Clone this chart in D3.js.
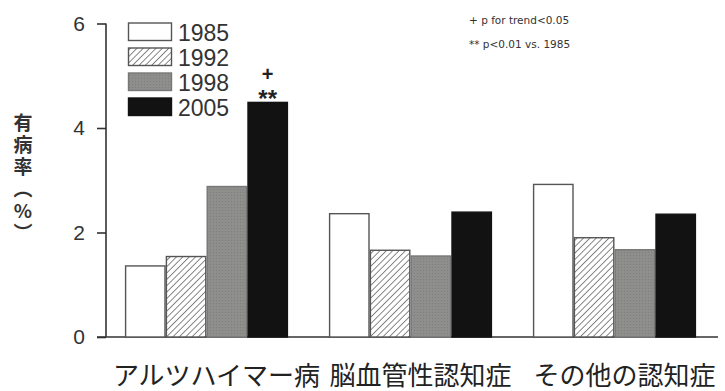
<!DOCTYPE html>
<html><head><meta charset="utf-8">
<script src="https://cdn.jsdelivr.net/npm/d3@7"></script>
<style>body{margin:0;background:#fff}svg{display:block}</style>
</head><body>
<div id="chart"></div>
<script>
const categories = ["アルツハイマー病", "脳血管性認知症", "その他の認知症"];
const years = ["1985", "1992", "1998", "2005"];
const v1985 = [1.36, 2.36, 2.92];
const v1992 = [1.54, 1.66, 1.90];
const v1998 = [2.88, 1.55, 1.67];
const v2005 = [4.49, 2.39, 2.35];
const yTicks = [0, 2, 4, 6];
const yTitle = "有病率（%）";
const notes = ["+ p for trend<0.05", "**  p<0.01 vs. 1985"];
const marks = ["+", "**"];

const series = [v1985, v1992, v1998, v2005];
const W = 725, H = 391;
const svg = d3.select("#chart").append("svg").attr("width", W).attr("height", H);
const defs = svg.append("defs");
const hatch = defs.append("pattern").attr("id","hatch").attr("patternUnits","userSpaceOnUse")
  .attr("width",4.5).attr("height",4.5).attr("patternTransform","rotate(45)");
hatch.append("rect").attr("width",4.5).attr("height",4.5).attr("fill","#fff");
hatch.append("line").attr("x1",0).attr("y1",0).attr("x2",0).attr("y2",4.5).attr("stroke","#6a6a6a").attr("stroke-width",1.6);
const dots = defs.append("pattern").attr("id","dots").attr("patternUnits","userSpaceOnUse").attr("width",3).attr("height",3);
dots.append("rect").attr("width",3).attr("height",3).attr("fill","#8e8f8c");
dots.append("rect").attr("width",1).attr("height",1).attr("fill","#7e7f7c");

const fills = ["#ffffff", "url(#hatch)", "url(#dots)", "#121212"];
const strokes = ["#555", "#555", "#777", "#121212"];

const y = d3.scaleLinear().domain([0, 6]).range([337, 23.5]);
const x0 = d3.scaleBand().domain(categories).range([104.5, 716.5]).paddingInner(0.2).paddingOuter(0.1);
const x1 = d3.scaleBand().domain(years).range([0, x0.bandwidth()]);

// axes
const ya = svg.append("g").attr("transform","translate(106,0)")
  .call(d3.axisLeft(y).tickValues(yTicks).tickSize(9).tickPadding(12).tickFormat(d3.format("d")));
ya.select(".domain").attr("stroke","#333").attr("stroke-width",1.6).attr("d","M0,"+y(6)+"V"+y(0));
ya.selectAll(".tick line").attr("stroke","#333").attr("stroke-width",1.6);
ya.selectAll(".tick text").attr("font-family","'Liberation Sans', Arial, sans-serif").attr("font-size",21).attr("fill","#333");

svg.append("line").attr("x1",97).attr("x2",718).attr("y1",y(0)).attr("y2",y(0)).attr("stroke","#333").attr("stroke-width",1.6);

// bars
const g = svg.append("g");
categories.forEach((c, ci) => {
  years.forEach((yr, si) => {
    const v = series[si][ci];
    g.append("rect")
      .attr("x", x0(c) + x1(yr) + 0.7)
      .attr("y", y(v))
      .attr("width", x1.bandwidth() - 1.4)
      .attr("height", y(0) - y(v))
      .attr("fill", fills[si]).attr("stroke", strokes[si]).attr("stroke-width", 1.4);
  });
});

// significance marks above 2005 Alzheimer bar
const mx = x0(categories[0]) + x1("2005") + x1.bandwidth()/2;
svg.append("text").attr("x", mx).attr("y", y(v2005[0]) - 21).attr("text-anchor","middle")
  .attr("font-family","'Liberation Sans', Arial, sans-serif").attr("font-size",20).attr("font-weight","bold").attr("fill","#222").text(marks[0]);
svg.append("text").attr("x", mx).attr("y", y(v2005[0]) + 5).attr("text-anchor","middle")
  .attr("font-family","'Liberation Sans', Arial, sans-serif").attr("font-size",24).attr("font-weight","bold").attr("fill","#222").text(marks[1]);

// legend
years.forEach((yr, i) => {
  const ly = 23 + i * 25;
  svg.append("rect").attr("x",128.5).attr("y",ly).attr("width",43).attr("height",17.5)
    .attr("fill",fills[i]).attr("stroke",strokes[i]).attr("stroke-width",1.4);
  svg.append("text").attr("x",178).attr("y",ly + 18).attr("font-family","'Liberation Sans', Arial, sans-serif")
    .attr("font-size",23).attr("fill","#333").text(yr);
});

// notes
notes.forEach((t, i) => {
  svg.append("text").attr("x",469).attr("y",24 + i*24).attr("font-family","'DejaVu Sans', sans-serif")
    .attr("font-size",10.5).attr("fill","#333").text(t);
});

// category labels
svg.selectAll(".cat").data(categories).enter().append("text")
  .attr("x", d => x0(d) + x0.bandwidth()/2 + 10).attr("y", 385).attr("text-anchor","middle")
  .attr("font-family","'Noto Sans CJK JP', sans-serif").attr("font-size",26).attr("fill","#222").text(d => d);

// y title (vertical text)
svg.append("text").attr("x",23).attr("y",113)
  .attr("writing-mode","vertical-rl")
  .style("text-orientation","upright")
  .style("letter-spacing","3px")
  .attr("font-family","'Noto Sans CJK JP', sans-serif").attr("font-size",19).attr("font-weight","bold").attr("fill","#333")
  .text(yTitle);
</script>
</body></html>
